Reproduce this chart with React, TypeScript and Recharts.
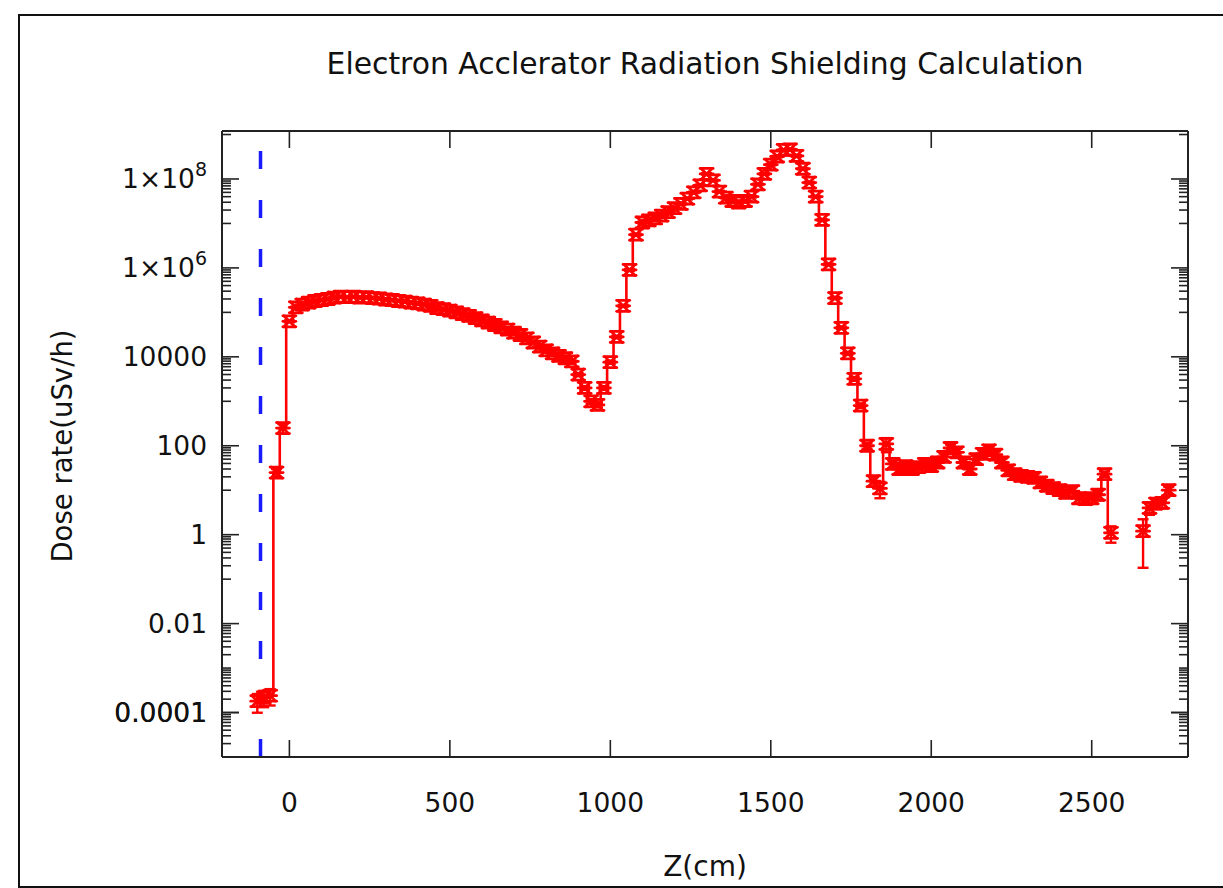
import React from 'react';
import { LineChart, Line, XAxis, YAxis, ErrorBar, ReferenceLine } from 'recharts';

// ---- data -------------------------------------------------------------
const zPositions: number[] = [
  -100, -80, -60, -40, -20, 0, 20, 40, 60, 80,
  100, 120, 140, 160, 180, 200, 220, 240, 260, 280,
  300, 320, 340, 360, 380, 400, 420, 440, 460, 480,
  500, 520, 540, 560, 580, 600, 620, 640, 660, 680,
  700, 720, 740, 760, 780, 800, 820, 840, 860, 880,
  900, 920, 940, 960, 980, 1000, 1020, 1040, 1060, 1080,
  1100, 1120, 1140, 1160, 1180, 1200, 1220, 1240, 1260, 1280,
  1300, 1320, 1340, 1360, 1380, 1400, 1420, 1440, 1460, 1480,
  1500, 1520, 1540, 1560, 1580, 1600, 1620, 1640, 1660, 1680,
  1700, 1720, 1740, 1760, 1780, 1800, 1820, 1840, 1860, 1880,
  1900, 1920, 1940, 1960, 1980, 2000, 2020, 2040, 2060, 2080,
  2100, 2120, 2140, 2160, 2180, 2200, 2220, 2240, 2260, 2280,
  2300, 2320, 2340, 2360, 2380, 2400, 2420, 2440, 2460, 2480,
  2500, 2520, 2540, 2560, 2580, 2600, 2620, 2640, 2660, 2680,
  2700, 2720, 2740,
];

// dose rate in uSv/h (null = no value scored)
const doseRates: (number | null)[] = [
  1.8e-4, 2.2e-4, 2.4e-4, 25, 250, 6.3e4, 1.3e5, 1.5e5, 1.65e5, 1.8e5,
  1.9e5, 2.0e5, 2.15e5, 2.25e5, 2.2e5, 2.25e5, 2.15e5, 2.2e5, 2.1e5, 2.05e5,
  1.95e5, 1.9e5, 1.8e5, 1.75e5, 1.65e5, 1.6e5, 1.5e5, 1.4e5, 1.25e5, 1.18e5,
  1.1e5, 1.0e5, 9.1e4, 8.3e4, 7.4e4, 6.6e4, 5.9e4, 5.2e4, 4.6e4, 4.1e4,
  3.5e4, 3.1e4, 2.6e4, 2.1e4, 1.7e4, 1.4e4, 1.2e4, 1.05e4, 9.3e3, 7.9e3,
  4.0e3, 2.0e3, 1.0e3, 830, 2.0e3, 7.6e3, 2.8e4, 1.4e5, 9.0e5, 5.6e6,
  1.05e7, 1.17e7, 1.3e7, 1.5e7, 1.8e7, 2.2e7, 2.75e7, 3.6e7, 5.0e7, 7.2e7,
  1.3e8, 9.3e7, 5.2e7, 3.8e7, 3.2e7, 2.95e7, 3.2e7, 4.0e7, 7.6e7, 1.3e8,
  2.1e8, 3.2e8, 4.5e8, 4.6e8, 3.3e8, 1.7e8, 8.3e7, 4.0e7, 1.2e7, 1.2e6,
  2.1e5, 4.5e4, 1.2e4, 3.2e3, 800, 100, 16, 11, 110, 39,
  30, 35, 30, 33, 39, 35, 42, 56, 89, 71,
  42, 30, 50, 66, 79, 63, 42, 28, 23, 21,
  20, 19, 15, 12.6, 11.2, 10, 8.7, 9.5, 6.6, 6.3,
  6.6, 7.9, 23, 1.1, null, null, null, null, 1.2, 4.0,
  5.0, 5.2, 10,
];

// statistical error in percent of the dose rate
const relErrorPct: number[] = [
  45, 40, 40, 20, 25, 5, 4, 4, 4, 4,
  4, 4, 4, 4, 4, 4, 4, 4, 4, 4,
  4, 4, 4, 4, 4, 4, 4, 4, 4, 4,
  4, 4, 4, 4, 4, 4, 4, 4, 4, 4,
  4, 4, 4, 4, 4, 4, 4, 4, 4, 4,
  8, 10, 12, 12, 10, 8, 6, 5, 5, 5,
  4, 4, 4, 4, 4, 4, 4, 4, 4, 4,
  4, 4, 4, 4, 4, 4, 4, 4, 4, 4,
  4, 4, 4, 4, 4, 4, 4, 4, 4, 4,
  5, 6, 8, 10, 12, 15, 25, 40, 35, 20,
  20, 20, 20, 25, 20, 20, 20, 20, 20, 20,
  20, 20, 20, 20, 20, 20, 20, 20, 20, 20,
  20, 20, 20, 20, 20, 20, 20, 25, 25, 25,
  25, 25, 15, 40, 0, 0, 0, 0, 85, 30,
  25, 25, 20,
];

const xTicks = [0, 500, 1000, 1500, 2000, 2500];
const yMajorTicks = [1e-4, 1e-2, 1, 100, 1e4, 1e6, 1e8];
const yTickLabels = ['0.0001', '0.01', '1', '100', '10000', '1×10^6', '1×10^8'];
const beamlineZ = -90;

const titleText = 'Electron Acclerator Radiation Shielding Calculation';
const xLabelText = 'Z(cm)';
const yLabelText = 'Dose rate(uSv/h)';

// ---- derived ----------------------------------------------------------
const chartData = zPositions.map((z, i) => {
  const d = doseRates[i];
  return {
    z,
    dose: d,
    err: d == null ? 0 : (d * relErrorPct[i]) / 100,
  };
});

// gnuplot style minor ticks: 10..90 x 10^k above each major
const yMinorTicks: number[] = [];
[1e-5, ...yMajorTicks].forEach((m) => {
  for (let j = 1; j <= 9; j++) {
    const v = j * 10 * m;
    if (v <= 1.2e9) yMinorTicks.push(v);
  }
});
[2, 3, 4, 5, 6, 7, 8, 9].forEach((j) => yMinorTicks.push(j * 1e-5));
const yAllTicks = [...yMajorTicks, ...yMinorTicks].sort((a, b) => a - b);

const FONT = "'DejaVu Sans', Verdana, sans-serif";
const RED = '#ff0000';
const MAJOR_LEN = 17;
const MINOR_LEN = 9;
const FRAME = '#222';

const isMajor = (v: number) => yMajorTicks.some((m) => Math.abs(v - m) / m < 1e-9);

const renderYLabel = (v: number, x: number, y: number) => {
  const idx = yMajorTicks.findIndex((m) => Math.abs(v - m) / m < 1e-9);
  const label = yTickLabels[idx];
  if (label.includes('^')) {
    const [base, exp] = label.split('^');
    return (
      <text x={x - 15} y={y + 9} textAnchor="end" fontSize={26.5} fontFamily={FONT} fill="#111">
        {base}
        <tspan dy={-12} fontSize={19}>{exp}</tspan>
      </text>
    );
  }
  return (
    <text x={x - 15} y={y + 9} textAnchor="end" fontSize={26.5} fontFamily={FONT} fill="#111">
      {label}
    </text>
  );
};

const LeftTick = (props: any) => {
  const { x, y, payload } = props;
  const v = payload.value as number;
  const major = isMajor(v);
  return (
    <g>
      <line x1={x} y1={y} x2={x + (major ? MAJOR_LEN : MINOR_LEN)} y2={y} stroke={FRAME} strokeWidth={1.6} />
      {major ? renderYLabel(v, x, y) : null}
    </g>
  );
};

const RightTick = (props: any) => {
  const { x, y, payload } = props;
  const v = payload.value as number;
  const major = isMajor(v);
  return (
    <g>
      <line x1={x} y1={y} x2={x - (major ? MAJOR_LEN : MINOR_LEN)} y2={y} stroke={FRAME} strokeWidth={1.6} />
    </g>
  );
};

const BottomTick = (props: any) => {
  const { x, y, payload } = props;
  return (
    <g>
      <line x1={x} y1={y} x2={x} y2={y - MAJOR_LEN} stroke={FRAME} strokeWidth={1.6} />
      <text x={x} y={y + 55} textAnchor="middle" fontSize={26.5} fontFamily={FONT} fill="#111">
        {payload.value}
      </text>
    </g>
  );
};

const TopTick = (props: any) => {
  const { x, y } = props;
  return <line x1={x} y1={y} x2={x} y2={y + MAJOR_LEN} stroke={FRAME} strokeWidth={1.6} />;
};

const StarDot = (props: any) => {
  const { cx, cy, payload, index } = props;
  if (cx == null || cy == null || payload == null || payload.dose == null || isNaN(cy)) {
    return <g key={`d-${index}`} />;
  }
  const r = 5.5;
  return (
    <g key={`d-${index}`} stroke={RED} strokeWidth={2.8} fill="none" strokeLinecap="round">
      <line x1={cx - r} y1={cy - r} x2={cx + r} y2={cy + r} />
      <line x1={cx - r} y1={cy + r} x2={cx + r} y2={cy - r} />
      <line x1={cx - r - 1} y1={cy - r} x2={cx + r + 1} y2={cy - r} />
      <line x1={cx - r - 1} y1={cy + r} x2={cx + r + 1} y2={cy + r} />
      <line x1={cx - r - 1} y1={cy} x2={cx + r + 1} y2={cy} />
    </g>
  );
};

export default function App() {
  return (
    <div style={{ position: 'absolute', left: 0, top: 0, width: 1223, height: 888, background: '#fff', overflow: 'hidden' }}>
      <div
        style={{
          position: 'absolute', left: 18, top: 14, width: 1240, height: 870,
          borderTop: '2px solid #111', borderLeft: '2px solid #111', borderBottom: '2px solid #111',
        }}
      />
      <LineChart
        width={1223}
        height={888}
        data={chartData}
        margin={{ top: 111, right: 15, bottom: 71, left: 112 }}
        style={{ position: 'absolute', left: 0, top: 0 }}
      >
        <XAxis
          dataKey="z"
          type="number"
          domain={[-210, 2800]}
          ticks={xTicks}
          interval={0}
          allowDataOverflow
          height={60}
          tickSize={0}
          tickMargin={0}
          tick={<BottomTick />}
          axisLine={{ stroke: FRAME, strokeWidth: 2 }}
          tickLine={false}
        />
        <XAxis
          xAxisId="top"
          orientation="top"
          dataKey="z"
          type="number"
          domain={[-210, 2800]}
          ticks={xTicks}
          interval={0}
          allowDataOverflow
          height={20}
          tickSize={0}
          tickMargin={0}
          tick={<TopTick />}
          axisLine={{ stroke: FRAME, strokeWidth: 2 }}
          tickLine={false}
        />
        <YAxis
          type="number"
          scale="log"
          domain={[1e-5, 1.2e9]}
          ticks={yAllTicks}
          interval={0}
          allowDataOverflow
          width={110}
          tickSize={0}
          tickMargin={0}
          tick={<LeftTick />}
          axisLine={{ stroke: FRAME, strokeWidth: 2 }}
          tickLine={false}
        />
        <YAxis
          yAxisId="right"
          orientation="right"
          type="number"
          scale="log"
          domain={[1e-5, 1.2e9]}
          ticks={yAllTicks}
          interval={0}
          allowDataOverflow
          width={20}
          tickSize={0}
          tickMargin={0}
          tick={<RightTick />}
          axisLine={{ stroke: FRAME, strokeWidth: 2 }}
          tickLine={false}
        />
        <ReferenceLine
          x={beamlineZ}
          stroke="#1a1aff"
          strokeWidth={3.5}
          strokeDasharray="18 31"
          ifOverflow="extendDomain"
        />
        <Line
          type="step"
          dataKey="dose"
          stroke={RED}
          strokeWidth={2.6}
          dot={StarDot}
          activeDot={false}
          connectNulls={false}
          isAnimationActive={false}
        >
          <ErrorBar dataKey="err" direction="y" width={5.5} stroke={RED} strokeWidth={2.4} isAnimationActive={false} />
        </Line>
      </LineChart>
      <div
        style={{
          position: 'absolute', left: 0, width: 1410, top: 44, textAlign: 'center',
          fontFamily: FONT, fontSize: 29.8, color: '#111', whiteSpace: 'nowrap', lineHeight: '40px',
        }}
      >
        {titleText}
      </div>
      <div
        style={{
          position: 'absolute', left: 0, width: 1410, top: 850, height: 34, textAlign: 'center',
          fontFamily: FONT, fontSize: 28, color: '#111', whiteSpace: 'nowrap', lineHeight: '34px',
        }}
      >
        {xLabelText}
      </div>
      <div
        style={{
          position: 'absolute', left: 62 - 200, top: 446 - 20, width: 400, height: 40, textAlign: 'center',
          fontFamily: FONT, fontSize: 27.5, color: '#111', whiteSpace: 'nowrap', lineHeight: '40px',
          transform: 'rotate(-90deg)',
        }}
      >
        {yLabelText}
      </div>
    </div>
  );
}
